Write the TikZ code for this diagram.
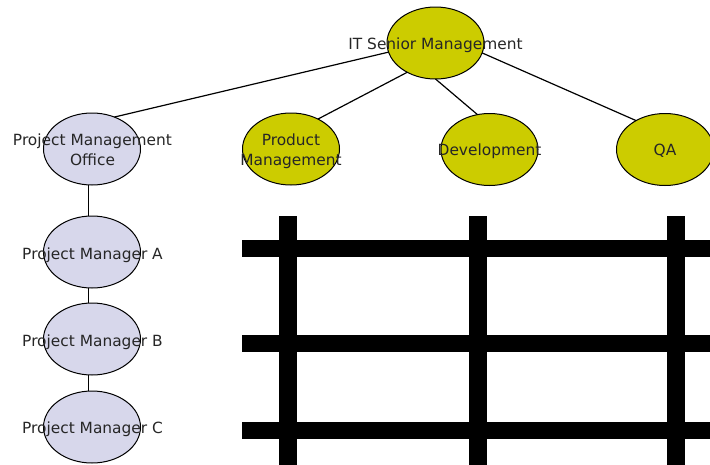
\documentclass[tikz,border=0pt]{standalone}
\usepackage{fontspec}
\setmainfont{DejaVu Sans}
\usetikzlibrary{shapes.geometric}
\definecolor{olivey}{HTML}{CCCC00}
\definecolor{lav}{HTML}{D7D7EB}
\tikzset{
  oval/.style={ellipse, draw=black, line width=1pt, minimum width=97pt, minimum height=72pt, inner sep=0pt, outer sep=0pt},
  yel/.style={oval, fill=olivey},
  pmo/.style={oval, fill=lav},
  lbl/.style={anchor=base, inner sep=0pt, font=\fontsize{15.4}{19}\selectfont, text=black!85},
  conn/.style={draw=black, line width=1.2pt},
  bar/.style={line width=18pt, black}
}
\begin{document}
\begin{tikzpicture}[x=1pt,y=-1pt]
\useasboundingbox (0,0) rectangle (710,464);
\clip (0,0) rectangle (710,464);
% ellipses
\node[yel] (it) at (435.5,43) {};
\node[pmo] (office) at (92,149) {};
\node[yel] (prod) at (291,149) {};
\node[yel] (dev) at (489.5,149.5) {};
\node[yel] (qa) at (665,149.5) {};
\node[pmo] (pma) at (92,252) {};
\node[pmo] (pmb) at (92,339) {};
\node[pmo] (pmc) at (92,427) {};
% connectors
\draw[conn] (it.191) -- (office.55);
\draw[conn] (it.226) -- (prod.48);
\draw[conn] (it.270) -- (dev.109);
\draw[conn] (it.348) -- (qa.135);
\draw[conn] (office.265) -- (pma.95);
\draw[conn] (pma.265) -- (pmb.95);
\draw[conn] (pmb.265) -- (pmc.95);
% labels
\node[lbl] (tit) at (435.5,49.3) {IT Senior Management};
\node[lbl] (toff1) at (92.5,145.7) {Project Management};
\node[lbl] (toff2) at (92.5,165) {Office};
\node[lbl] (tprod1) at (291,145.7) {Product};
\node[lbl] (tprod2) at (291,165) {Management};
\node[lbl] (tdev) at (489.5,155.7) {Development};
\node[lbl] (tqa) at (665,155.7) {QA};
\node[lbl] (tpma) at (92.5,259.3) {Project Manager A};
\node[lbl] (tpmb) at (92.5,346) {Project Manager B};
\node[lbl] (tpmc) at (92.5,433.3) {Project Manager C};
% grid
\foreach \x in {287.5,477.5,676} \draw[bar] (\x,216) -- (\x,470);
\foreach \y in {248.5,343.5,430.5} \draw[bar, line width=17pt] (242,\y) -- (720,\y);
\end{tikzpicture}
\end{document}
